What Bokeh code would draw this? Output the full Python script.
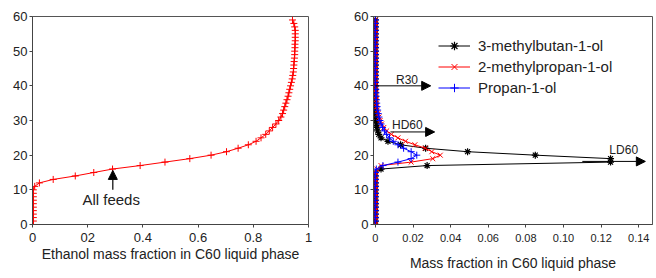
from math import pi
from bokeh.plotting import figure
from bokeh.layouts import row
from bokeh.models import (Range1d, Arrow, NormalHead, Label, Legend, LegendItem,
                          FixedTicker, CustomJSTickFormatter)
from bokeh.embed import file_html
from bokeh.resources import INLINE

FONT = "Liberation Sans"

# ---------------- data ----------------
trays = list(range(60))

ethanol = [0.003] * 11 + [
    0.008, 0.025, 0.075, 0.155, 0.222, 0.29, 0.39, 0.48, 0.57, 0.647,
    0.703, 0.745, 0.782, 0.81, 0.828, 0.845, 0.858, 0.87, 0.882, 0.892,
    0.9, 0.906, 0.91, 0.914, 0.918, 0.922, 0.926, 0.929, 0.932, 0.935,
    0.938, 0.941, 0.943, 0.945, 0.946, 0.947, 0.948, 0.949, 0.95, 0.95,
    0.951, 0.951, 0.952, 0.952, 0.952, 0.952, 0.95, 0.947, 0.942]

methylbutanol = [0.0] * 16 + [
    0.003, 0.0275, 0.125, 0.125, 0.085, 0.049, 0.0267, 0.0134, 0.0067, 0.003,
    0.0018, 0.0012, 0.0008, 0.0006, 0.0004, 0.0003, 0.0002, 0.0001] + [0.0] * 26

methylpropanol = [0.0] * 16 + [
    0.0008, 0.003, 0.019, 0.0305, 0.0345, 0.030, 0.0265, 0.021, 0.016, 0.012,
    0.0085, 0.006, 0.0045, 0.0033, 0.0025, 0.0019, 0.0014, 0.001, 0.0007, 0.0005,
    0.0004, 0.0003, 0.0002, 0.0001] + [0.0] * 20

propanol = [0.0] * 16 + [
    0.0005, 0.004, 0.012, 0.019, 0.022, 0.019, 0.015, 0.012, 0.0095, 0.0075,
    0.006, 0.0048, 0.0038, 0.003, 0.0024, 0.0019, 0.0015, 0.0012, 0.0009, 0.0007,
    0.0005, 0.0004, 0.0003, 0.0002, 0.0001] + [0.0] * 19

left_xticks = [0, 0.2, 0.4, 0.6, 0.8, 1]
left_xlabels = ["0", "02", "0.4", "0.6", "0.8", "1"]
right_xticks = [0, 0.02, 0.04, 0.06, 0.08, 0.10, 0.12, 0.14]
right_xlabels = ["0", "0.02", "0.04", "0.06", "0.08", "0.10", "0.12", "0.14"]
yticks = [0, 10, 20, 30, 40, 50, 60]

FMT_CODE = """
let best = 0, d = Infinity;
for (let i = 0; i < tvals.length; i++) {
  const e = Math.abs(tvals[i] - tick);
  if (e < d) { d = e; best = i; }
}
return tlabels[best];
"""


def style(p, xticks, xlabels, xsize, xstand, xlabstand, ylab_x, ylab_size):
    p.outline_line_color = "#555555"
    p.outline_line_width = 1
    p.xgrid.visible = False
    p.ygrid.visible = False
    for ax in (p.xaxis[0], p.yaxis[0]):
        ax.axis_line_color = "#444444"
        ax.major_tick_line_color = "#444444"
        ax.major_tick_out = 3
        ax.major_tick_in = 0
        ax.minor_tick_line_color = None
        ax.major_label_text_font = FONT
        ax.major_label_text_color = "#222222"
        ax.axis_label_text_font = FONT
        ax.axis_label_text_font_style = "normal"
        ax.axis_label_text_font_size = "14px"
        ax.axis_label_text_color = "#222222"
    p.xaxis.ticker = FixedTicker(ticks=xticks)
    p.xaxis.formatter = CustomJSTickFormatter(args=dict(tvals=xticks, tlabels=xlabels),
                                              code=FMT_CODE)
    p.xaxis.major_label_text_font_size = xsize
    p.xaxis.major_label_standoff = xstand
    p.xaxis.axis_label_standoff = xlabstand
    p.yaxis.ticker = FixedTicker(ticks=yticks)
    p.yaxis.major_label_text_font_size = "13px"
    p.yaxis.major_label_standoff = 2
    p.add_layout(Label(x=ylab_x, y=32, x_units="screen", y_units="data",
                       text="Real tray number", angle=pi / 2,
                       text_align="center", text_baseline="middle",
                       text_font=FONT, text_font_size=ylab_size,
                       text_color="#222222"))


# ---------------- left plot ----------------
p1 = figure(width=330, height=278, output_backend="svg", toolbar_location=None,
            x_range=Range1d(0, 1), y_range=Range1d(0, 60),
            min_border_left=32, min_border_right=22, min_border_top=16,
            min_border_bottom=54)
p1.xaxis.axis_label = "Ethanol mass fraction in C60 liquid phase"
style(p1, left_xticks, left_xlabels, "13px", 5, 1, -24.5, "13.5px")

p1.line(ethanol, trays, line_color="#ff0000", line_width=1)
p1.scatter(ethanol, trays, marker="cross", size=7, line_color="#ff0000", line_width=1)

p1.add_layout(Arrow(end=NormalHead(size=9, fill_color="black", line_color="black"),
                    x_start=0.291, y_start=10.0, x_end=0.291, y_end=15.6,
                    line_color="black", line_width=1.2))
p1.add_layout(Label(x=0.285, y=7.2, text="All feeds", text_align="center",
                    text_baseline="middle", text_font=FONT,
                    text_font_size="15px", text_color="#222222"))

# ---------------- right plot ----------------
p2 = figure(width=326, height=278, output_backend="svg", toolbar_location=None,
            x_range=Range1d(-0.001, 0.1473), y_range=Range1d(0, 60),
            min_border_left=43, min_border_right=4, min_border_top=16,
            min_border_bottom=51)
p2.xaxis.axis_label = "Mass fraction in C60 liquid phase"
style(p2, right_xticks, right_xlabels, "11px", 6, 10, -27.5, "14px")

l_b = p2.line(methylbutanol, trays, line_color="black", line_width=1)
s_b = p2.scatter(methylbutanol, trays, marker="asterisk", size=7, line_color="black", line_width=1.2)
l_r = p2.line(methylpropanol, trays, line_color="#ff0000", line_width=1)
s_r = p2.scatter(methylpropanol, trays, marker="x", size=7, line_color="#ff0000", line_width=1)
l_p = p2.line(propanol, trays, line_color="#0000ff", line_width=1)
s_p = p2.scatter(propanol, trays, marker="cross", size=7, line_color="#0000ff", line_width=1)

head = dict(size=9, fill_color="black", line_color="black")
p2.add_layout(Arrow(end=NormalHead(**head), x_start=0.0, y_start=40.0,
                    x_end=0.0294, y_end=40.0, line_color="black", line_width=1))
p2.add_layout(Arrow(end=NormalHead(**head), x_start=0.008, y_start=26.7,
                    x_end=0.0315, y_end=26.7, line_color="black", line_width=1))
p2.add_layout(Arrow(end=NormalHead(**head), x_start=0.11, y_start=18.2,
                    x_end=0.1435, y_end=18.2, line_color="black", line_width=1))
for txt, x, y in [("R30", 0.0168, 41.8), ("HD60", 0.017, 28.7), ("LD60", 0.132, 21.6)]:
    p2.add_layout(Label(x=x, y=y, text=txt, text_align="center", text_baseline="middle",
                        text_font=FONT, text_font_size="12px", text_color="#222222"))

legend = Legend(items=[
    LegendItem(label="3-methylbutan-1-ol", renderers=[l_b, s_b]),
    LegendItem(label="2-methylpropan-1-ol", renderers=[l_r, s_r]),
    LegendItem(label="Propan-1-ol", renderers=[l_p, s_p]),
], location=(65, 126), padding=0, margin=0, spacing=0,
    glyph_width=32, glyph_height=21, label_height=21, label_standoff=8,
    label_text_font=FONT, label_text_font_size="15px", label_text_color="#222222",
    border_line_color=None, background_fill_alpha=0)
p2.add_layout(legend, "center")

layout = row(p1, p2)
open("out.html", "w").write(file_html(layout, INLINE))
